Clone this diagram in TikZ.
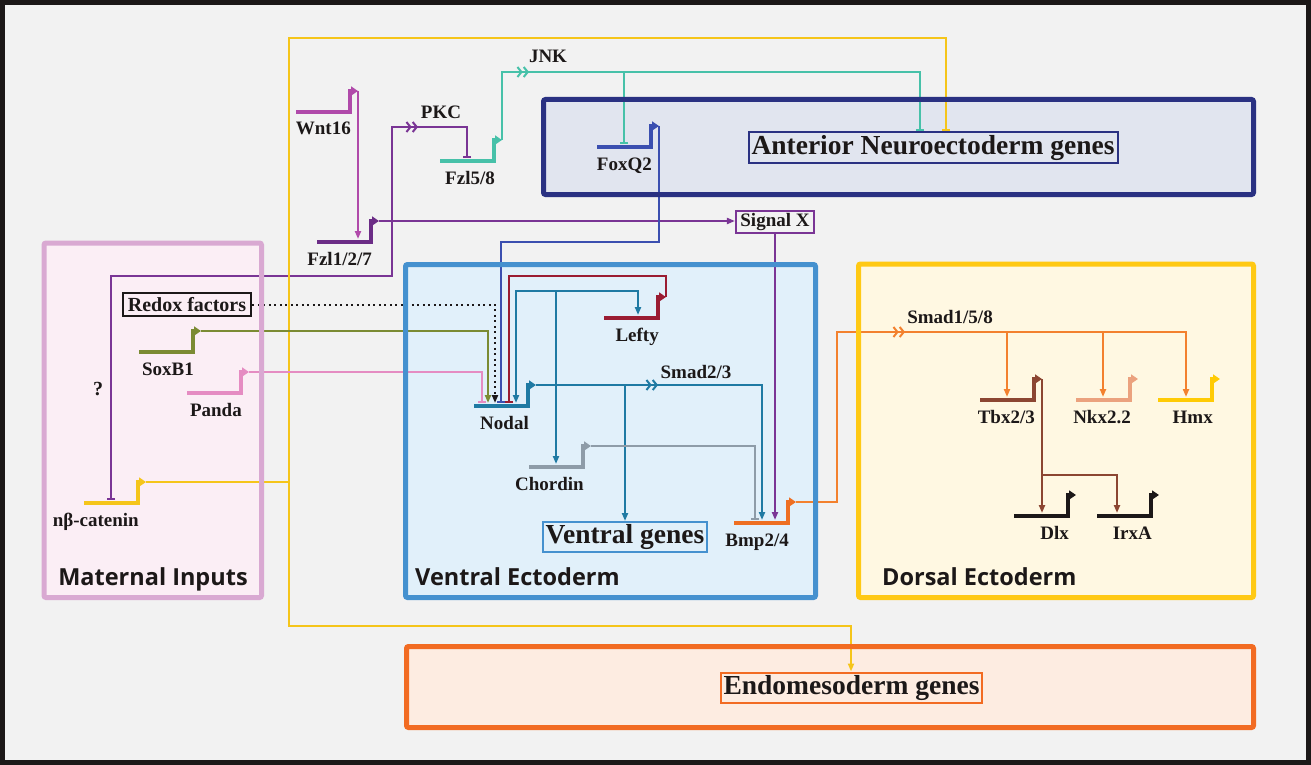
\documentclass[tikz,border=0pt]{standalone}
\usepackage{fontspec}
\setmainfont{Liberation Serif}
\newfontfamily\regionfont{Open Sans}
\usepackage{tikz}
\usetikzlibrary{positioning,arrows.meta,calc}
\definecolor{ink}       {HTML}{1C1818}
\definecolor{paper}     {HTML}{F2F2F2}
\definecolor{navy}      {HTML}{2A3182}
\definecolor{navyfill}  {HTML}{E1E5EF}
\definecolor{lilac}     {HTML}{D9A9D2}
\definecolor{lilacfill} {HTML}{FBEEF5}
\definecolor{skyblue}   {HTML}{4591CF}
\definecolor{skyfill}   {HTML}{E1F0FA}
\definecolor{gold}      {HTML}{FFC914}
\definecolor{goldfill}  {HTML}{FFF8E2}
\definecolor{tangerine} {HTML}{F26B22}
\definecolor{tangfill}  {HTML}{FDECE1}
\definecolor{cWnt}  {HTML}{B04AAA}
\definecolor{cFzl}  {HTML}{6B2C86}
\definecolor{cSig}  {HTML}{7A3595}
\definecolor{cJnk}  {HTML}{47C1A9}
\definecolor{cFox}  {HTML}{3B4FB0}
\definecolor{cNod}  {HTML}{1F7AA3}
\definecolor{cLef}  {HTML}{9A1C32}
\definecolor{cChd}  {HTML}{8E9CA8}
\definecolor{cBmp}  {HTML}{EE6F22}
\definecolor{cSmad} {HTML}{F3812E}
\definecolor{cSox}  {HTML}{7B8B33}
\definecolor{cPan}  {HTML}{E58CC2}
\definecolor{cCat}  {HTML}{F5C51A}
\definecolor{cTbx}  {HTML}{8C4632}
\definecolor{cNkx}  {HTML}{EBA27E}
\definecolor{cHmx}  {HTML}{FFCB05}
\tikzset{
  % --- genes
  genebar/.style  = {line width=3.5pt, line join=miter, -{Triangle[length=7pt,width=9pt]}},
  genelbl/.style  = {font=\fontsize{19}{19}\selectfont\bfseries, text=ink, inner sep=0pt},
  % --- boxes
  lbox/.style     = {draw, line width=2pt, font=\fontsize{27.5}{28}\selectfont\bfseries, text=ink,
                     inner xsep=3pt, inner ysep=1pt, minimum height=30pt},
  tag/.style      = {draw, line width=2pt, fill=paper, font=\fontsize{19}{19}\selectfont\bfseries,
                     text=ink, inner xsep=4.5pt, inner ysep=1pt, minimum height=22pt},
  region/.style   = {line width=5pt, rounded corners=2pt},
  regionlbl/.style= {font=\regionfont\fontsize{23.5}{24}\selectfont\bfseries, text=ink, inner sep=0pt},
  % --- edges
  e/.style        = {line width=2pt},
  act/.style      = {e, -{Triangle[length=8pt,width=6pt]}},
  biact/.style    = {e, {Triangle[length=8pt,width=6pt]}-{Triangle[length=8pt,width=6pt]}},
  inh/.style      = {e, -{Bar[width=8pt,line width=2pt]}},
  biinh/.style    = {e, {Bar[width=8pt,line width=2pt]}-{Bar[width=8pt,line width=2pt]}},
  dbl/.style      = {e, -{Straight Barb[length=4pt,width=10pt]Straight Barb[length=4pt,width=10pt]}},
}
% gene: name, x, y of the bar, colour, label
\newcommand{\gene}[5]{%
  \draw[genebar, draw=#4] (#2-27,#3) -- (#2+27,#3) -- (#2+27,#3-21) -- (#2+35,#3-21);
  \coordinate (#1) at (#2+35,#3-21);
  \coordinate (#1-t) at (#2,#3-3);
  \node[genelbl, anchor=base east] (#1-lab) at (#2+28,#3+23) {#5};
}

\begin{document}
\begin{tikzpicture}[x=1pt,y=-1pt]
  \useasboundingbox (0,0) rectangle (1311,765);
  % frame
  \fill[ink] (0,0) rectangle (1311,765);
  \fill[paper] (5,5) rectangle (1306,760);
  % tissues
  \coordinate (ant-a) at (543.5,99.5);  \coordinate (ant-b) at (1253.5,194.5);
  \coordinate (mat-a) at (44,243);      \coordinate (mat-b) at (261.5,597.5);
  \coordinate (ven-a) at (405.5,264.5); \coordinate (ven-b) at (815.5,597.5);
  \coordinate (dor-a) at (858.5,264);   \coordinate (dor-b) at (1253.5,597.5);
  \coordinate (end-a) at (406.5,646.5); \coordinate (end-b) at (1253.5,727.5);
  \foreach \r/\f in {ant/navyfill, mat/lilacfill, ven/skyfill, dor/goldfill, end/tangfill}
    \fill[\f] (\r-a) rectangle (\r-b);

  % target boxes
  \node[lbox, draw=navy, fill=navyfill] (anter) at (933,147.5) {Anterior Neuroectoderm genes};
  \node[lbox, draw=skyblue, fill=skyfill] (vgen) at (625,537) {Ventral genes};
  \node[lbox, draw=tangerine, fill=tangfill] (endol) at (851.5,687.5) {Endomesoderm genes};
  \node[tag, draw=cSig] (sigx) at (775,222) {Signal X};
  \node[tag, draw=ink, line width=2.5pt, fill=lilacfill, inner xsep=5pt, minimum height=23pt,
        font=\fontsize{20}{20}\selectfont\bfseries] (redox) at (187,304.5) {Redox factors};

  % genes
  \gene{wnt}{323}{112}{cWnt}{Wnt16}
  \gene{fzlA}{344}{242}{cFzl}{Fzl1/2/7}
  \gene{fzlB}{467}{161}{cJnk}{Fzl5/8}
  \gene{foxq}{624}{147}{cFox}{FoxQ2}
  \gene{soxb}{166}{352}{cSox}{SoxB1}
  \gene{panda}{214}{393}{cPan}{Panda}
  \gene{ncat}{111}{503}{cCat}{nβ-catenin}
  \gene{nodal}{501}{406}{cNod}{Nodal}
  \gene{lefty}{631}{318}{cLef}{Lefty}
  \gene{chord}{556}{467}{cChd}{Chordin}
  \gene{bmp}{761}{523}{cBmp}{Bmp2/4}
  \gene{tbx}{1007}{400}{cTbx}{Tbx2/3}
  \gene{nkx}{1103}{400}{cNkx}{Nkx2.2}
  \gene{hmx}{1185}{400}{cHmx}{Hmx}
  \gene{dlx}{1041}{516}{ink}{Dlx}
  \gene{irxa}{1124}{516}{ink}{IrxA}

  % bends
  \coordinate (pkc-a) at (111,276);  \coordinate (pkc-b) at (392,276);
  \coordinate (pkc-c) at (392,127);  \coordinate (pkc) at (418,127);
  \coordinate (pkc-d) at (467,127);
  \coordinate (jnk-a) at (502,72);   \coordinate (jnk) at (529,72);
  \coordinate (jnk-b) at (920,72);
  \coordinate (cat-a) at (289,482);  \coordinate (cat-b) at (289,38);
  \coordinate (cat-c) at (946,38);   \coordinate (cat-d) at (289,626);
  \coordinate (cat-e) at (851,626);
  \coordinate (fox-a) at (659,242);  \coordinate (fox-b) at (501,242);
  \coordinate (lef-a) at (509,276);
  \coordinate (loop-a) at (516,291); \coordinate (loop-b) at (638,291);
  \coordinate (smad23) at (658,385); \coordinate (smad-a) at (762,385);
  \coordinate (chd-a) at (755,446);
  \coordinate (bmp-a) at (837,502);  \coordinate (bmp-b) at (837,332);
  \coordinate (smad158) at (905,332); \coordinate (bmp-c) at (1186,332);
  \coordinate (tbx-a) at (1042,475); \coordinate (tbx-b) at (1117,475);

  % wnt / frizzled
  \draw[act, draw=cWnt] (wnt) -- (wnt |- fzlA-t);
  \draw[act, draw=cSig] (fzlA) -- (fzlA -| sigx.west);
  \draw[biinh, draw=cSig] (ncat-t) -- (pkc-a) -- (pkc-b) -- (pkc-c) -- (pkc-d) -- (fzlB-t);
  \draw[dbl, draw=cSig] (pkc-c) -- (pkc);
  \draw[inh, draw=cJnk] (fzlB) -- (jnk-a) -- (jnk-b) -- (jnk-b |- anter.north);
  \draw[dbl, draw=cJnk] (jnk-a) -- (jnk);
  \draw[inh, draw=cJnk] (foxq-t |- jnk-a) -- (foxq-t);
  % beta-catenin
  \draw[inh, draw=cCat] (ncat) -- (cat-a) -- (cat-b) -- (cat-c) -- (cat-c |- anter.north);
  \draw[act, draw=cCat] (cat-a) -- (cat-d) -- (cat-e) -- (cat-e |- endol.north);
  % inputs to nodal
  \draw[inh, draw=cPan] (panda) -| ($(nodal-t)+(-19,0)$);
  \draw[act, draw=cSox] (soxb) -| ($(nodal-t)+(-13,0)$);
  \draw[act, draw=ink, dash pattern=on 2pt off 3.5pt] (redox) -| ($(nodal-t)+(-6,0)$);
  \draw[inh, draw=cFox] (foxq) -- (fox-a) -- (fox-b) -- (fox-b |- nodal-t);
  \draw[inh, draw=cLef] (lefty) |- (lef-a) -- (lef-a |- nodal-t);
  \draw[biact, draw=cNod] (loop-a |- nodal-t) -- (loop-a) -- (loop-b) -- (loop-b |- lefty-t);
  \draw[act, draw=cNod] (chord-t |- loop-a) -- (chord-t);
  % ventral outputs
  \draw[act, draw=cNod] (nodal) -- (smad-a) -- (smad-a |- bmp-t);
  \draw[dbl, draw=cNod] (nodal) -- (smad23);
  \draw[act, draw=cNod] (vgen.north |- nodal) -- (vgen.north);
  \draw[inh, draw=cChd] (chord) -- (chd-a) -- (chd-a |- bmp-t);
  \draw[act, draw=cSig] (sigx) -- (sigx |- bmp-t);
  % dorsal
  \draw[act, draw=cSmad] (bmp) -- (bmp-a) -- (bmp-b) -- (bmp-c) -- (bmp-c |- hmx-t);
  \draw[dbl, draw=cSmad] (bmp-b) -- (smad158);
  \draw[act, draw=cSmad] (tbx-t |- bmp-b) -- (tbx-t);
  \draw[act, draw=cSmad] (nkx-t |- bmp-b) -- (nkx-t);
  \draw[act, draw=cTbx] (tbx) -- (tbx |- dlx-t);
  \draw[act, draw=cTbx] (tbx-a) -- (tbx-b) -- (tbx-b |- irxa-t);

  % signal labels
  \node[genelbl, anchor=base] (pkclbl) at (441,118) {PKC};
  \node[genelbl, anchor=base] (jnklbl) at (548,63) {JNK};
  \node[genelbl, anchor=base] (smad23lbl) at (696,378) {Smad2/3};
  \node[genelbl, anchor=base] (smad158lbl) at (950,323) {Smad1/5/8};
  \node[genelbl, anchor=base, font=\fontsize{20}{20}\selectfont\bfseries] (qlbl) at (98,395) {?};

  % tissue borders and names
  \foreach \r/\d in {ant/navy, mat/lilac, ven/skyblue, dor/gold, end/tangerine}
    \draw[region, draw=\d] (\r-a) rectangle (\r-b);
  \node[regionlbl, anchor=base] (matlbl) at (153,585) {Maternal Inputs};
  \node[regionlbl, anchor=base west] (venlbl) at (415,585) {Ventral Ectoderm};
  \node[regionlbl, anchor=base west] (dorlbl) at (882,585) {Dorsal Ectoderm};
\end{tikzpicture}
\end{document}
